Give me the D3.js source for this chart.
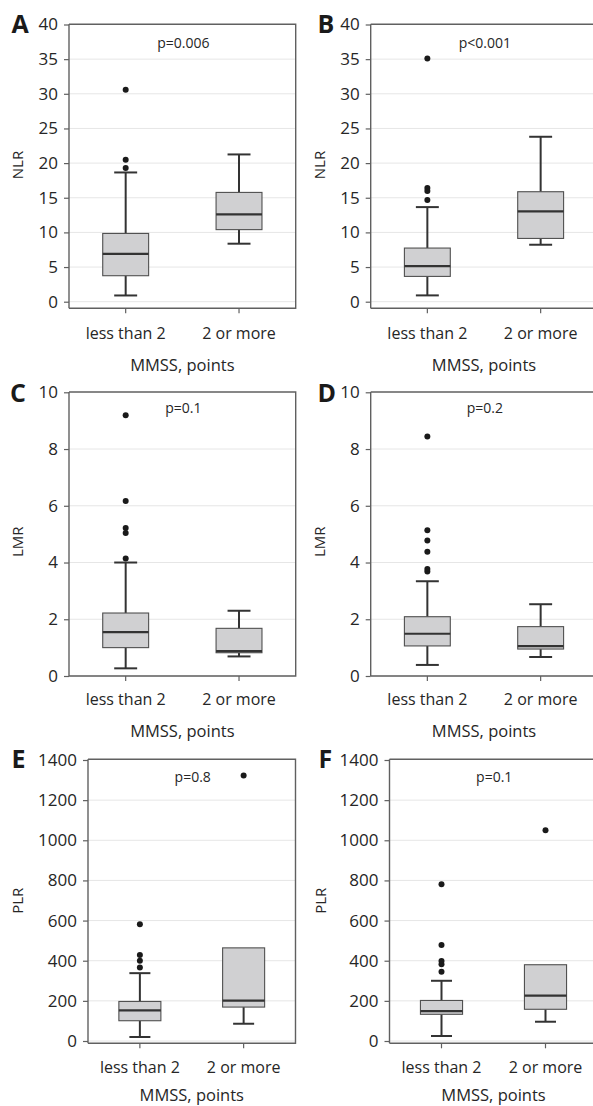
<!DOCTYPE html>
<html><head><meta charset="utf-8">
<script src="https://cdn.jsdelivr.net/npm/d3@7"></script>
<style>
html,body{margin:0;padding:0;background:#fff;}
svg{display:block;font-family:"Open Sans",sans-serif;}
</style></head>
<body>
<svg id="chart" width="593" height="1106"></svg>
<script>
// ---- data ----
const categories = ["less than 2", "2 or more"];
const panelLetters = ["A","B","C","D","E","F"];
const yTitles = ["NLR","NLR","LMR","LMR","PLR","PLR"];
const pValues = ["p=0.006","p<0.001","p=0.1","p=0.2","p=0.8","p=0.1"];
const xTitle = "MMSS, points";
const ticksNLR = [0,5,10,15,20,25,30,35,40];
const ticksLMR = [0,2,4,6,8,10];
const ticksPLR = [0,200,400,600,800,1000,1200,1400];
// [low whisker, Q1, median, Q3, high whisker] per category
const statsA = [[0.9,3.75,6.9,9.85,18.65],[8.37,10.4,12.6,15.77,21.25]];
const outliersA = [[19.3,20.5,30.6],[]];
const statsB = [[0.91,3.65,5.14,7.74,13.65],[8.22,9.13,13.03,15.87,23.8]];
const outliersB = [[14.66,15.96,16.4,35.1],[]];
const statsC = [[0.27,1.0,1.55,2.22,4.0],[0.69,0.82,0.88,1.68,2.3]];
const outliersC = [[4.14,5.04,5.22,6.17,9.19],[]];
const statsD = [[0.39,1.06,1.49,2.09,3.34],[0.67,0.95,1.05,1.74,2.53]];
const outliersD = [[3.68,3.77,4.38,4.78,5.14,8.44],[]];
const statsE = [[20,101,153,197,338],[86,169,201,464,464]];
const outliersE = [[366,400,428,582],[1323]];
const statsF = [[25,133,149,202,300],[96,158,226,380,380]];
const outliersF = [[345,383,398,478,781],[1050]];

// ---- layout ----
const rows = [
  {top:24.3, bot:308.3, y0:301.7, y1:24.5, catBase:339.3, titleBase:370.7, letterBase:33.3, pBase:47.7, yTitleY:165, ticks:ticksNLR},
  {top:392, bot:676, y0:676, y1:392.3, catBase:705, titleBase:737.3, letterBase:401.7, pBase:413.3, yTitleY:541.7, ticks:ticksLMR},
  {top:759.3, bot:1043.3, y0:1041, y1:760, catBase:1073.3, titleBase:1101, letterBase:768.3, pBase:781.7, yTitleY:900.7, ticks:ticksPLR}
];
const cols = [
  [{x0:69, x1:295.7, letterX:11.5, yTitleX:16.7}, {x0:69, x1:295.7, letterX:10, yTitleX:16.7}, {x0:88, x1:295.5, letterX:11.5, yTitleX:16.7}],
  [{x0:370.7, x1:597.3, letterX:317.5, yTitleX:319}, {x0:370.7, x1:597.3, letterX:317.5, yTitleX:319}, {x0:389.5, x1:597.5, letterX:318.5, yTitleX:319.7}]
];
const panelStats = [statsA,statsB,statsC,statsD,statsE,statsF];
const panelOut = [outliersA,outliersB,outliersC,outliersD,outliersE,outliersF];

const svg = d3.select("#chart");
const textCol = "#262626";
const FONT = "'Open Sans',sans-serif";

panelStats.forEach((stats, i) => {
  const r = Math.floor(i/2), c = i%2;
  const row = rows[r], col = cols[c][r];
  const g = svg.append("g");
  const y = d3.scaleLinear().domain([0, d3.max(row.ticks)]).range([row.y0, row.y1]);
  const x = d3.scaleBand().domain(categories).range([col.x0, col.x1]).paddingInner(0).paddingOuter(0);
  const bw = x.bandwidth()*0.405;

  // gridlines
  g.append("g").selectAll("line").data(row.ticks.filter(t => t < d3.max(row.ticks)))
    .join("line")
    .attr("x1", col.x0).attr("x2", col.x1)
    .attr("y1", d => y(d)).attr("y2", d => y(d))
    .attr("stroke", "#e6e6e6").attr("stroke-width", 1);

  // frame top/right/bottom
  g.append("path")
    .attr("d", `M${col.x0},${row.top}H${col.x1}V${row.bot}H${col.x0}`)
    .attr("fill","none").attr("stroke","#606060").attr("stroke-width",1.4);

  // y axis
  const ya = g.append("g").attr("transform", `translate(${col.x0},0)`)
    .call(d3.axisLeft(y).tickValues(row.ticks).tickFormat(d3.format("d")).tickSize(5).tickPadding(6).tickSizeOuter(0));
  ya.attr("font-size", 17).attr("font-family", FONT);
  ya.select(".domain").attr("d", `M0,${row.top}V${row.bot}`).attr("stroke","#606060").attr("stroke-width",1.4);
  ya.selectAll(".tick line").attr("stroke","#606060").attr("stroke-width",1.2);
  ya.selectAll(".tick text").attr("fill", textCol).attr("font-size", 17);

  // x axis
  const xa = g.append("g").attr("transform", `translate(0,${row.bot})`)
    .call(d3.axisBottom(x).tickSize(5).tickSizeOuter(0).tickFormat(""));
  xa.select(".domain").remove();
  xa.selectAll(".tick line").attr("stroke","#606060").attr("stroke-width",1.2);
  g.append("g").selectAll("text").data(categories).join("text")
    .attr("x", d => x(d) + x.bandwidth()/2).attr("y", row.catBase)
    .attr("text-anchor","middle").attr("fill",textCol)
    .attr("font-size",16).text(d => d);

  // x title
  g.append("text").attr("x",(col.x0+col.x1)/2).attr("y",row.titleBase)
    .attr("text-anchor","middle").attr("fill",textCol).attr("font-size",16.5).text(xTitle);

  // y title
  g.append("text").attr("transform",`translate(${col.yTitleX},${row.yTitleY}) rotate(-90)`)
    .attr("text-anchor","middle").attr("dominant-baseline","central")
    .attr("fill",textCol).attr("font-size",15).text(yTitles[i]);

  // panel letter
  g.append("text").attr("x",col.letterX).attr("y",row.letterBase)
    .attr("fill","#1a1a1a").attr("font-size",25).attr("font-weight",700).text(panelLetters[i]);

  // p value
  g.append("text").attr("x",(col.x0+Math.min(col.x1,597))/2+1).attr("y",row.pBase)
    .attr("text-anchor","middle").attr("fill",textCol).attr("font-size",14).text(pValues[i]);

  // boxes
  stats.forEach((s, k) => {
    const cx = x(categories[k]) + x.bandwidth()/2;
    const [lo,q1,med,q3,hi] = s;
    const bg = g.append("g");
    bg.append("line").attr("x1",cx).attr("x2",cx).attr("y1",y(q3)).attr("y2",y(hi))
      .attr("stroke","#333").attr("stroke-width",2);
    bg.append("line").attr("x1",cx).attr("x2",cx).attr("y1",y(q1)).attr("y2",y(lo))
      .attr("stroke","#333").attr("stroke-width",2);
    if (hi > q3) bg.append("line").attr("x1",cx-bw/4).attr("x2",cx+bw/4).attr("y1",y(hi)).attr("y2",y(hi))
      .attr("stroke","#333").attr("stroke-width",2);
    if (lo < q1) bg.append("line").attr("x1",cx-bw/4).attr("x2",cx+bw/4).attr("y1",y(lo)).attr("y2",y(lo))
      .attr("stroke","#333").attr("stroke-width",2);
    bg.append("rect").attr("x",cx-bw/2).attr("width",bw)
      .attr("y",y(q3)).attr("height",y(q1)-y(q3))
      .attr("fill","#d0d0d2").attr("stroke","#505050").attr("stroke-width",1.1);
    bg.append("line").attr("x1",cx-bw/2).attr("x2",cx+bw/2).attr("y1",y(med)).attr("y2",y(med))
      .attr("stroke","#333").attr("stroke-width",2.2);
    bg.selectAll("circle").data(panelOut[i][k]).join("circle")
      .attr("cx",cx).attr("cy",d => y(d)).attr("r",3).attr("fill","#1a1a1a");
  });
});
</script>
</body></html>
